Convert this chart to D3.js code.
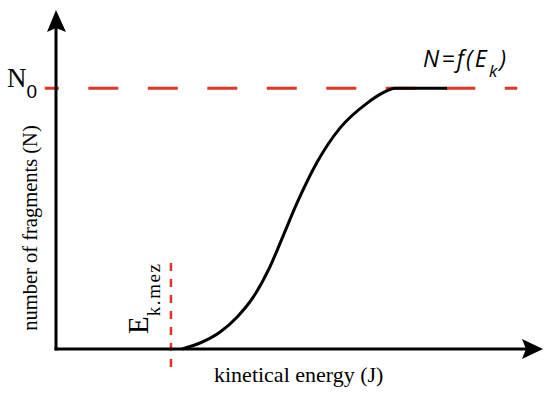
<!DOCTYPE html>
<html><head><meta charset="utf-8">
<script src="https://cdn.jsdelivr.net/npm/d3@7"></script>
<style>body{margin:0;background:#fff}svg{display:block}</style>
</head><body>
<svg id="c" width="550" height="396"></svg>
<script>
// ---- data (abstract units) ----
const energy    = [25.9, 30.1, 33.7, 37.2, 40.5, 43.9, 46.6, 49.5, 53.6, 58.3, 63.9, 67.0, 69.6, 80.3];
const fragments = [0, 0.027, 0.065, 0.123, 0.199, 0.314, 0.432, 0.560, 0.716, 0.847, 0.943, 0.981, 1.0, 1.0];
const N0 = 1.0;
const Ekmez = 23.6;
const saturationRange = [-2.3, 94.7];
const EkmezRange = [-0.07, 0.33];
const labels = {x: "kinetical energy (J)", y: "number of fragments (N)"};

const svg = d3.select("#c");
const x = d3.scaleLinear().domain([0, 100]).range([56, 543]);
const y = d3.scaleLinear().domain([0, 1.3]).range([349, 10]);
const red = "#e5332a";

// N0 dashed saturation line
svg.append("line")
  .attr("x1", x(saturationRange[0])).attr("x2", x(saturationRange[1]))
  .attr("y1", y(N0)).attr("y2", y(N0))
  .attr("stroke", red).attr("stroke-width", 3)
  .attr("stroke-dasharray", "30,29.5").attr("stroke-dashoffset", 16);

// Ek,mez dashed vertical
svg.append("line")
  .attr("x1", x(Ekmez)).attr("x2", x(Ekmez))
  .attr("y1", y(EkmezRange[1])).attr("y2", y(EkmezRange[0]))
  .attr("stroke", red).attr("stroke-width", 2.5)
  .attr("stroke-dasharray", "8,8");

// axes
const x0 = x(0), yb = y(0);
svg.append("line").attr("x1", x0).attr("x2", x0).attr("y1", y(0) + 1.5).attr("y2", y(1.3) + 18)
  .attr("stroke", "#000").attr("stroke-width", 3);
svg.append("line").attr("x1", x0 - 1.5).attr("x2", x(100) - 17).attr("y1", yb).attr("y2", yb)
  .attr("stroke", "#000").attr("stroke-width", 3);
// arrowheads
const yt = y(1.3), xt = x(100);
svg.append("path").attr("d", `M${x0},${yt} L${x0 + 10},${yt + 22} L${x0},${yt + 18} L${x0 - 9},${yt + 22} Z`).attr("fill", "#000");
svg.append("path").attr("d", `M${xt},${yb} L${xt - 21},${yb - 10} L${xt - 17},${yb} L${xt - 21},${yb + 10} Z`).attr("fill", "#000");

// curve
const pts = energy.map((e, i) => [e, fragments[i]]);
svg.append("path").datum(pts)
  .attr("d", d3.line().x(d => x(d[0])).y(d => y(d[1])).curve(d3.curveMonotoneX))
  .attr("fill", "none").attr("stroke", "#000").attr("stroke-width", 3);

// labels
const serif = "'Liberation Serif', 'Times New Roman', serif";
const n0 = svg.append("text").attr("x", 7).attr("y", 87).attr("font-family", serif).attr("font-size", 27).attr("fill", "#000");
n0.append("tspan").text("N");
n0.append("tspan").attr("dy", 11).attr("font-size", 19).attr("font-family", "'Liberation Sans', sans-serif").text("0");

const fe = svg.append("text").attr("x", 423).attr("y", 67).attr("font-family", "'Open Sans', Lato, sans-serif")
  .attr("font-style", "italic").attr("font-size", 23).attr("letter-spacing", 2.2).attr("fill", "#000");
fe.append("tspan").text("N=f(E");
fe.append("tspan").attr("dy", 10).attr("font-size", 17).text("k");
fe.append("tspan").attr("dy", -10).text(")");

const ek = svg.append("text").attr("transform", `translate(148,334) rotate(-90)`)
  .attr("font-family", serif).attr("font-size", 29).attr("fill", "#000");
ek.append("tspan").text("E");
ek.append("tspan").attr("dy", 12).attr("font-size", 19).attr("letter-spacing", 1.6).text("k.mez");

svg.append("text").attr("x", 214).attr("y", 382).attr("font-family", serif).attr("font-size", 22)
  .attr("fill", "#000").text(labels.x);

svg.append("text").attr("transform", `translate(37,228) rotate(-90)`).attr("text-anchor", "middle")
  .attr("font-family", serif).attr("font-size", 20.5).attr("fill", "#000").text(labels.y);
</script>
</body></html>
